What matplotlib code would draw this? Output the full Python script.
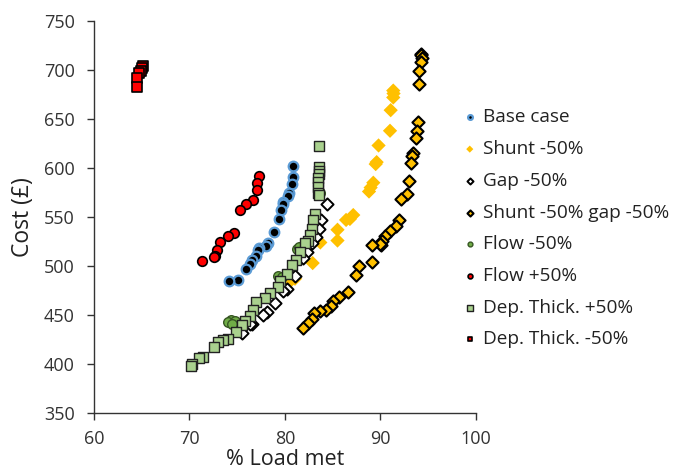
import matplotlib
matplotlib.use("Agg")
import matplotlib.pyplot as plt

plt.rcParams['font.family'] = ['Open Sans', 'DejaVu Sans']

# ---- data ----
base_x = [80.8, 80.8, 80.7, 80.45, 80.3, 79.8, 79.76, 79.55, 79.4, 78.9, 78.2, 78.0, 77.3, 77.2, 77.0, 76.5, 76.3, 75.9, 75.05, 74.1]
base_y = [602, 591, 584, 574, 571, 565, 563, 557, 548, 535, 523, 520, 518, 516, 510, 506, 502, 497, 486, 485]

shunt_x = [91.34, 91.37, 91.34, 91.07, 91.0, 89.8, 89.6, 89.5, 89.25, 88.97, 88.8, 87.15, 86.8, 86.4, 85.5, 85.5, 83.7, 82.9, 81.05, 80.5]
shunt_y = [679, 676, 672, 659, 638, 623, 606, 604, 585, 580, 576, 552, 548, 547, 537, 526, 524, 503, 487, 484]

gap_x = [84.37, 83.74, 83.6, 83.3, 82.8, 82.27, 81.9, 81.0, 80.24, 79.8, 79.0, 78.1, 77.7, 76.5, 76.3, 75.5]
gap_y = [563, 547, 538, 530, 523, 514, 508, 490, 477, 474, 462, 453, 450, 441, 441, 432]

sg_x = [94.2, 94.24, 94.3, 94.2, 94.07, 94.03, 93.97, 93.8, 93.7, 93.4, 93.27, 93.16, 93.0, 92.75, 92.1, 91.9, 91.6, 91.0, 90.5, 90.2, 90.1, 90.0, 89.1,
        89.1, 87.8, 87.4, 86.6, 85.7, 85.0, 84.8, 84.3, 83.7, 83.0, 82.8, 82.45, 81.9]
sg_y = [716, 715, 712, 708, 699, 686, 647, 638, 631, 615, 612, 605, 587, 573, 568, 547, 541, 536, 531, 526, 521, 522, 521,
        504, 500, 491, 473, 468, 464, 459, 455, 454, 452, 446, 442, 437]

flowm_x = [83.6, 83.66, 81.3, 81.5, 79.3, 79.65, 74.3, 74.07, 74.8, 74.5]
flowm_y = [577, 574, 517, 519, 490, 489, 445, 443, 444, 441]

flowp_x = [77.28, 77.04, 77.1, 76.7, 75.9, 75.3, 74.66, 74.0, 73.2, 72.85, 72.67, 72.6, 71.3]
flowp_y = [592, 585, 578, 567, 563, 557, 534, 531, 524, 516, 510, 509, 505]

depp_x = [83.6, 83.6, 83.6, 83.55, 83.5, 83.5, 83.5, 83.5, 83.55,
          83.14, 82.96, 82.8, 82.6, 82.4, 82.1, 81.57, 81.2, 80.7, 80.2, 79.5, 79.3, 78.4, 77.9, 77.0, 76.7,
          76.3, 75.8, 75.46, 74.9, 74.06, 73.54, 73.0, 72.57, 71.4, 71.0, 70.3, 70.2]
depp_y = [622, 601, 597, 594, 590, 586, 581, 575, 572,
          553, 547, 538, 532, 526, 523, 514, 506, 501, 492, 485, 479, 472, 467, 463, 455,
          449, 444, 440, 433, 426, 424, 422, 417, 407, 406, 400, 398]

depm_x = [65.1, 65.0, 64.9, 64.75, 64.5, 64.5]
depm_y = [704, 702, 699, 697, 692, 683]

fig = plt.figure(figsize=(6.88, 4.70), dpi=100)
ax = fig.add_axes([0.1366, 0.1213, 0.5552, 0.834])

ms = 48
ax.scatter(base_x, base_y, s=ms, marker='o', facecolor='black', edgecolor='#5B9BD5', linewidth=1.6, label='Base case', zorder=3)
ax.scatter(shunt_x, shunt_y, s=ms*1.1, marker='D', facecolor='#FFC000', edgecolor='none', label='Shunt -50%', zorder=3)
ax.scatter(gap_x, gap_y, s=ms*0.8, marker='D', facecolor='white', edgecolor='black', linewidth=1.4, label='Gap -50%', zorder=3)
ax.scatter(sg_x, sg_y, s=ms*0.8, marker='D', facecolor='#FFC000', edgecolor='black', linewidth=1.5, label='Shunt -50% gap -50%', zorder=3)
ax.scatter(flowm_x, flowm_y, s=ms, marker='o', facecolor='#70AD47', edgecolor='#375623', linewidth=1.0, label='Flow -50%', zorder=3)
ax.scatter(flowp_x, flowp_y, s=ms, marker='o', facecolor='#FF0000', edgecolor='black', linewidth=1.2, label='Flow +50%', zorder=3)
ax.scatter(depp_x, depp_y, s=ms*1.1, marker='s', facecolor='#A9D18E', edgecolor='#222222', linewidth=1.0, label='Dep. Thick. +50%', zorder=3)
ax.scatter(depm_x, depm_y, s=ms, marker='s', facecolor='#FF0000', edgecolor='black', linewidth=1.2, label='Dep. Thick. -50%', zorder=3)

ax.set_xlim(60, 100)
ax.set_ylim(350, 750)
ax.set_xticks([60, 70, 80, 90, 100])
ax.set_yticks(range(350, 751, 50))
for s in ['top', 'right']:
    ax.spines[s].set_visible(False)
for s in ['left', 'bottom']:
    ax.spines[s].set_color('#333333')
    ax.spines[s].set_linewidth(1.0)
ax.tick_params(direction='out', length=5, width=1, pad=7, colors='#333333', labelsize=13, labelcolor='#333333')
ax.tick_params(axis='y', pad=9)
ax.set_xlabel('% Load met', fontsize=15.5, color='#222222', labelpad=1)
ax.set_ylabel('Cost (£)', fontsize=16.5, color='#222222', labelpad=6)

leg = ax.legend(loc='upper left', bbox_to_anchor=(0.929, 0.811), frameon=False, fontsize=13.7,
                markerscale=0.5, handletextpad=0.3, handlelength=0.8, labelspacing=0.72,
                borderaxespad=0.3, labelcolor='#222222')

fig.savefig('out.png', dpi=100)
